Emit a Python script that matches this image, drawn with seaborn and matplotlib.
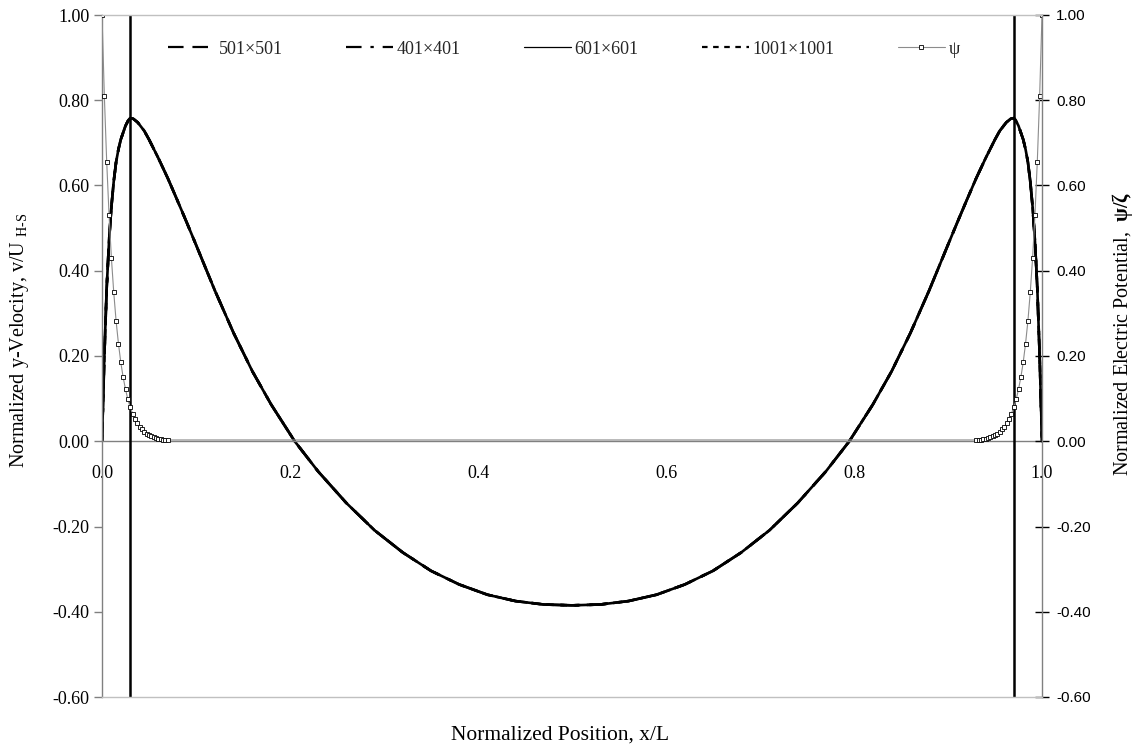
import matplotlib
matplotlib.use("Agg")
import matplotlib.pyplot as plt
from matplotlib.lines import Line2D
import seaborn as sns

# ---------------------------------------------------------------- data
# normalized position across the channel
x_vel = [0.0, 0.0025, 0.005, 0.0075, 0.01, 0.0125, 0.015, 0.0175, 0.02, 0.025,
         0.028, 0.030, 0.033, 0.038, 0.045, 0.05, 0.055, 0.06, 0.07, 0.08,
         0.09, 0.10, 0.12, 0.14, 0.16, 0.18, 0.205, 0.23, 0.26, 0.29,
         0.32, 0.35, 0.38, 0.41, 0.44, 0.47, 0.50, 0.53, 0.56, 0.59,
         0.62, 0.65, 0.68, 0.71, 0.74, 0.77, 0.795, 0.82, 0.84, 0.86,
         0.88, 0.90, 0.91, 0.92, 0.93, 0.94, 0.945, 0.95, 0.955, 0.962,
         0.967, 0.970, 0.972, 0.975, 0.98, 0.9825, 0.985, 0.9875, 0.99, 0.9925,
         0.995, 0.9975, 1.0]

# normalized y-velocity for each grid resolution (profiles coincide)
v_501 = [0.0, 0.20, 0.36, 0.47, 0.55, 0.61, 0.655, 0.685, 0.708, 0.740,
         0.753, 0.758, 0.757, 0.748, 0.728, 0.708, 0.686, 0.664, 0.617, 0.566,
         0.514, 0.461, 0.354, 0.254, 0.164, 0.086, 0.0, -0.071, -0.145, -0.209,
         -0.261, -0.304, -0.336, -0.360, -0.375, -0.383, -0.385, -0.383, -0.375, -0.360,
         -0.336, -0.304, -0.261, -0.209, -0.145, -0.071, 0.0, 0.086, 0.164, 0.254,
         0.354, 0.461, 0.514, 0.566, 0.617, 0.664, 0.686, 0.708, 0.728, 0.748,
         0.757, 0.758, 0.753, 0.740, 0.708, 0.685, 0.655, 0.61, 0.55, 0.47,
         0.36, 0.20, 0.0]
v_401 = v_501
v_601 = v_501
v_1001 = v_501

# normalized electric potential near both walls
x_psi = [0.0, 0.0025, 0.005, 0.0075, 0.01, 0.0125, 0.015, 0.0175, 0.02, 0.0225,
         0.025, 0.0275, 0.03, 0.0325, 0.035, 0.0375, 0.04, 0.0425, 0.045, 0.0475,
         0.05, 0.0525, 0.055, 0.0575, 0.06, 0.0625, 0.065, 0.0675, 0.07,
         0.93, 0.9325, 0.935, 0.9375, 0.94, 0.9425, 0.945, 0.9475,
         0.95, 0.9525, 0.955, 0.9575, 0.96, 0.9625, 0.965, 0.9675, 0.97, 0.9725,
         0.975, 0.9775, 0.98, 0.9825, 0.985, 0.9875, 0.99, 0.9925, 0.995, 0.9975,
         1.0]
psi = [1.000, 0.810, 0.656, 0.531, 0.430, 0.349, 0.282, 0.229, 0.185, 0.150,
       0.122, 0.098, 0.080, 0.065, 0.052, 0.042, 0.034, 0.028, 0.022, 0.018,
       0.015, 0.012, 0.010, 0.008, 0.006, 0.005, 0.004, 0.003, 0.003,
       0.003, 0.003, 0.004, 0.005, 0.006, 0.008, 0.010, 0.012,
       0.015, 0.018, 0.022, 0.028, 0.034, 0.042, 0.052, 0.065, 0.080, 0.098,
       0.122, 0.150, 0.185, 0.229, 0.282, 0.349, 0.430, 0.531, 0.656, 0.810,
       1.000]

# edges of the electric double layers
edl_edges = [0.030, 0.970]

x_ticks = [0.0, 0.2, 0.4, 0.6, 0.8, 1.0]
y_ticks = [-0.6, -0.4, -0.2, 0.0, 0.2, 0.4, 0.6, 0.8, 1.0]

series = [
    ("501×501", v_501, (0, (7, 4))),
    ("401×401", v_401, (0, (7, 4, 1.5, 4))),
    ("601×601", v_601, "-"),
    ("1001×1001", v_1001, (0, (2.5, 2.5))),
]

# ---------------------------------------------------------------- style
sns.set_theme(style="white")
plt.rcParams["font.family"] = ["Liberation Serif", "DejaVu Serif"]
plt.rcParams["mathtext.fontset"] = "custom"
plt.rcParams["mathtext.rm"] = "Liberation Serif"
plt.rcParams["mathtext.bf"] = "Liberation Serif:bold"
plt.rcParams["mathtext.it"] = "Liberation Serif:italic"

W, H = 1133, 753
AX_L, AX_R, AX_T, AX_B = 102, 1042, 15, 697
AX_W = AX_R - AX_L
fig = plt.figure(figsize=(W / 100, H / 100), dpi=100)
fig.patch.set_facecolor("white")
ax = fig.add_axes([AX_L / W, 1 - AX_B / H, AX_W / W, (AX_B - AX_T) / H])
ax.set_facecolor("white")

for name, vals, ls in series:
    sns.lineplot(x=x_vel, y=vals, ax=ax, color="black", lw=1.9,
                 linestyle=ls, sort=False, estimator=None, legend=False)

for xe in edl_edges:
    ax.axvline(xe, color="black", lw=1.8, zorder=3)

ax.set_xlim(0, 1)
ax.set_ylim(-0.6, 1.0)
ax.set_xticks(x_ticks)
ax.set_xticklabels([f"{t:.1f}" for t in x_ticks])
ax.set_yticks(y_ticks)
ax.set_yticklabels([f"{t:.2f}" for t in y_ticks])
ax.tick_params(axis="x", bottom=True, length=0, pad=17, labelsize=13,
               labelcolor="black")
ax.tick_params(axis="y", left=True, direction="out", length=6, width=1,
               color="#808080", pad=3, labelsize=13, labelcolor="black")

ax.spines["bottom"].set_position(("data", 0.0))
ax.spines["bottom"].set_color("#808080")
ax.spines["bottom"].set_linewidth(1.0)
ax.spines["left"].set_color("#808080")
ax.spines["left"].set_linewidth(1.0)
ax.spines["top"].set_visible(False)
ax.spines["right"].set_visible(False)

ax.set_ylabel("Normalized y-Velocity, v/U $_{\\mathrm{H‐S}}$", fontsize=14.5,
              color="black")
ax.yaxis.set_label_coords(-(AX_L - 31) / AX_W, (AX_B - 340) / (AX_B - AX_T))

# ---------------------------------------------------------------- potential
ax2 = ax.twinx()
sns.lineplot(x=x_psi, y=psi, ax=ax2, color="#8c8c8c", lw=0.8, marker="s",
             markersize=3, markerfacecolor="white", markeredgecolor="black",
             markeredgewidth=0.6, sort=False, estimator=None, legend=False)
ax2.set_ylim(-0.6, 1.0)
ax2.set_yticks(y_ticks)
ax2.set_yticklabels([f"{t:.2f}" for t in y_ticks],
                    fontfamily="Liberation Sans")
ax2.tick_params(axis="y", right=True, direction="inout", length=10, width=1,
                color="black", pad=5, labelsize=11, labelcolor="black")
ax2.spines["right"].set_color("#808080")
ax2.spines["right"].set_linewidth(1.0)
ax2.spines["top"].set_color("#c0c0c0")
ax2.spines["bottom"].set_color("#c0c0c0")
ax2.spines["top"].set_linewidth(1.0)
ax2.spines["bottom"].set_linewidth(1.0)
ax2.spines["left"].set_visible(False)
ax2.set_ylabel("Normalized Electric Potential,  $\\mathbf{ψ/ζ}$", fontsize=14.5,
               color="black")
ax2.yaxis.set_label_coords((1110 - AX_L) / AX_W, (AX_B - 334) / (AX_B - AX_T))

# ---------------------------------------------------------------- legend
handles = [Line2D([], [], color="black", lw=1.6, linestyle=ls)
           for _, _, ls in series]
handles[2] = Line2D([], [], color="black", lw=0.9, linestyle="-")
handles.append(Line2D([], [], color="#8c8c8c", lw=0.8, marker="s",
                      markersize=3, markerfacecolor="white",
                      markeredgecolor="black", markeredgewidth=0.6))
labels = [s[0] for s in series] + ["ψ"]
leg_cx = (564 - AX_L) / AX_W
leg_cy = (AX_B - 49) / (AX_B - AX_T)
ax2.legend(handles, labels, loc="center", bbox_to_anchor=(leg_cx, leg_cy),
           ncol=5, frameon=False, fontsize=13, handlelength=2.6,
           handletextpad=0.2, columnspacing=3.5)

fig.text(560 / W, 1 - 735 / H, "Normalized Position, x/L", ha="center",
         va="center", fontsize=15.5, color="black")

fig.savefig("out.png", dpi=100, facecolor="white")
